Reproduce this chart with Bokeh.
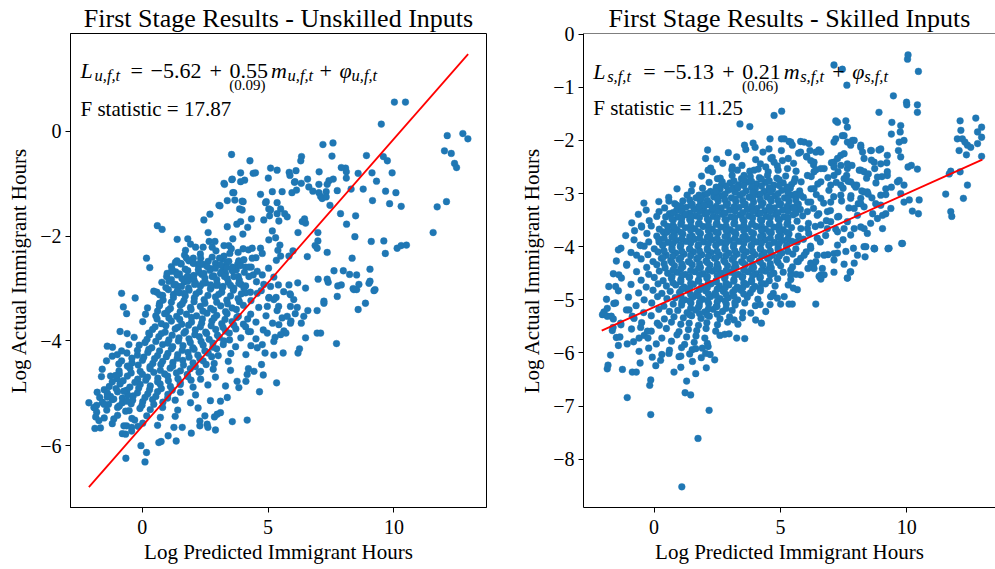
from bokeh.plotting import figure
from bokeh.layouts import row
from bokeh.models import Label, Range1d, FixedTicker, Span
from bokeh.embed import file_html
from bokeh.resources import INLINE

# ---------------- data ----------------
titles = ["First Stage Results - Unskilled Inputs", "First Stage Results - Skilled Inputs"]
x_label = "Log Predicted Immigrant Hours"
y_label = "Log Actual Immigrant Hours"
x_ticks = [0, 5, 10]
unskilled_y_ticks = [-6, -4, -2, 0]
skilled_y_ticks = [-8, -7, -6, -5, -4, -3, -2, -1, 0]

unskilled_fit_x = [-2.12, 12.95]
unskilled_fit_y = [-6.79, 1.475]
skilled_fit_x = [-2.07, 12.99]
skilled_fit_y = [-5.58, -2.36]

unskilled_eq = ["L", "u,f,t", "=", "\u22125.62", "+", "0.55", "m", "u,f,t", "+", "\u03c6", "u,f,t"]
unskilled_se = "(0.09)"
unskilled_f = "F statistic = 17.87"
skilled_eq = ["L", "s,f,t", "=", "\u22125.13", "+", "0.21", "m", "s,f,t", "+", "\u03c6", "s,f,t"]
skilled_se = "(0.06)"
skilled_f = "F statistic = 11.25"

unskilled_upper = [
(10.02,0.56),(10.46,0.56),(9.50,0.14),(12.12,-0.08),(12.74,-0.04),(12.94,-0.14),(12.01,-0.37),(12.28,-0.42),(12.41,-0.61),(12.49,-0.69),(12.09,-1.34),(11.72,-1.44),(11.56,-1.93),
(7.18,-0.25),(7.58,-0.22),(3.55,-0.44),(4.28,-0.56),(6.33,-0.48),(6.30,-0.56),(7.54,-0.47),(8.91,-0.46),(9.58,-0.48),(9.74,-0.56),
(8.08,-0.70),(7.91,-0.69),(8.11,-0.77),(8.58,-0.80),(9.13,-0.79),(9.93,-0.79),(5.10,-0.70),(5.36,-0.74),(3.91,-0.79),(4.07,-0.93),(3.91,-0.96),(4.41,-0.80),(4.50,-0.79),(5.01,-0.89),(5.84,-0.78),(5.87,-0.84),(6.11,-0.75),(6.05,-0.97),(6.57,-0.91),(6.32,-0.99),(7.03,-0.77),(7.42,-0.94),(7.59,-0.91),(7.35,-1.01),(7.02,-1.01),(8.11,-0.89),(9.31,-0.95),
(3.56,-0.92),(3.27,-1.01),(3.64,-1.17),(3.38,-1.32),(3.09,-1.42),(3.68,-1.31),(4.01,-1.34),(3.97,-1.50),(4.70,-1.20),(4.93,-1.34),(5.36,-1.36),(5.17,-1.15),(5.56,-1.15),(5.10,-1.50),(5.06,-1.61),(5.50,-1.48),(5.66,-1.57),(5.76,-1.63),(5.95,-1.17),(6.07,-0.96),(6.13,-1.12),(6.62,-1.06),(6.78,-1.14),(7.02,-1.17),(7.09,-1.24),(7.31,-1.15),(7.15,-1.28),(7.31,-1.25),(7.46,-1.41),(7.75,-1.13),(8.30,-1.10),(8.78,-1.10),(9.15,-1.32),(9.67,-1.14),(10.08,-1.17),(9.83,-1.38),(10.29,-1.43),(7.88,-1.57),(8.48,-1.61),(8.12,-1.77),(6.98,-1.93),(6.19,-1.93),(6.36,-1.72),(6.49,-1.75),(6.45,-1.67),
(8.45,-2.01),(9.10,-2.10),(9.60,-2.09),(9.66,-2.33),(10.13,-2.23),(10.29,-2.18),(10.50,-2.17),(6.98,-2.09),(6.87,-2.18),(6.95,-2.23),(7.35,-2.31),(6.56,-2.39),(5.99,-2.28),(5.83,-2.38),(8.34,-2.42),(9.05,-2.63),(9.05,-2.86),(7.62,-2.66),(7.99,-2.66),(8.24,-2.73),(8.52,-2.74),(6.99,-2.82),(7.39,-2.88),(7.35,-2.82),(7.77,-2.95),(7.91,-2.93),(8.38,-3.00),(8.61,-2.92),(9.21,-3.04),(7.22,-3.24),(5.83,-2.93),(5.87,-3.10),(6.49,-2.99),
]

unskilled_mid = [
(0.60,-1.80),(0.79,-1.87),(1.39,-2.06),(0.17,-2.42),(0.30,-2.60),(0.46,-3.05),(0.69,-3.12),(0.99,-2.71),(1.17,-2.67),(2.45,-1.69),(2.69,-1.58),(3.05,-1.41),(3.25,-0.99),(3.58,-0.91),(3.60,-1.17),(3.87,-1.48),(3.97,-1.33),(4.34,-1.67),(4.19,-1.83),(3.76,-1.77),(3.91,-1.72),(4.00,-1.96),(3.60,-2.05),(3.38,-1.82),(4.90,-1.36),(5.03,-1.48),(4.83,-1.69),(5.36,-1.57),(5.43,-1.71),(5.17,-1.90),(5.30,-2.03),(5.03,-2.07),(5.47,-2.17),(5.39,-2.27),(5.50,-2.38),(4.70,-2.23),(4.77,-2.33),(4.37,-2.23),(2.62,-1.93),(2.66,-2.10),(2.89,-2.10),(1.81,-2.05),(1.92,-2.15),(2.12,-2.21),(2.42,-2.21),(2.78,-2.21),(3.25,-2.18),(3.44,-2.18),(3.54,-2.24),(3.81,-2.31),(4.01,-2.24),(4.37,-2.42),(3.84,-2.48),(4.04,-2.45),(3.44,-2.48),(3.25,-2.38),(3.35,-2.60),(3.07,-2.42),(3.11,-2.55),(2.32,-2.42),(2.78,-2.40),(1.68,-2.36),(1.76,-2.42),(1.85,-2.47),(2.05,-2.52),(2.29,-2.52),(2.58,-2.58),(2.91,-2.61),(3.58,-2.59),(3.91,-2.56),(4.11,-2.59),(4.24,-2.59),(1.32,-2.50),(1.52,-2.52),(1.19,-2.64),(1.39,-2.74),(1.79,-2.77),(2.05,-2.75),(2.23,-2.64),(2.45,-2.71),(2.78,-2.77),(3.11,-2.71),(3.27,-2.77),(3.64,-2.77),(4.24,-2.77),(4.57,-2.67),(4.77,-2.74),(1.06,-2.86),(1.32,-2.92),(1.56,-2.96),(1.81,-2.86),(2.12,-2.90),(2.41,-2.90),(2.72,-2.93),(2.98,-2.91),(3.18,-2.99),(3.51,-2.94),(3.84,-2.90),(4.04,-2.99),(4.30,-3.07),(4.57,-3.09),(4.83,-2.92),(5.10,-2.96),(5.03,-3.18),(5.32,-3.17),(1.39,-3.05),(1.66,-3.09),
]

unskilled_lower = [
(-2.12,-5.18),(-1.92,-5.27),(-1.81,-5.36),(-1.85,-5.45),(-1.72,-5.52),(-1.88,-5.67),(-1.66,-5.66),(-1.52,-5.21),(-1.39,-4.10),(-1.59,-4.54),(-1.39,-4.99),(-1.39,-5.07),(-1.13,-5.11),(-1.13,-5.49),(-0.82,-3.09),(-0.75,-3.35),(-0.60,-3.86),(-0.53,-4.07),(-0.82,-4.19),(-0.82,-4.38),(-1.19,-4.29),(-0.99,-4.26),(-1.26,-4.67),(-1.06,-4.66),(-0.93,-4.44),(-0.73,-4.96),(-0.66,-5.34),(-0.60,-5.15),(-0.73,-5.62),(-0.79,-5.77),(-0.66,-5.78),(-0.42,-5.65),(-0.42,-5.72),(-0.30,-5.51),(-0.17,-5.63),(-0.05,-6.00),(0.17,-6.13),(0.11,-6.31),(-0.65,-6.24),(0.13,-3.49),(0.26,-3.85),(0.68,-3.32),(0.89,-3.48),(0.66,-5.94),(0.75,-5.92),(1.03,-5.81),(1.35,-5.91),(1.26,-5.65),(1.59,-5.65),(1.95,-5.76),(2.29,-5.62),(2.58,-5.59),(2.61,-5.65),(2.91,-5.70),(2.29,-5.53),(2.49,-5.43),(2.98,-5.40),(2.87,-5.45),(3.11,-5.37),(3.58,-5.54),(4.17,-5.51),(3.11,-5.15),(3.38,-5.08),(4.66,-4.97),(5.34,-4.80),(4.81,-4.65),(4.74,-4.45),(4.44,-4.58),(4.17,-4.64),(3.84,-4.89),(3.77,-4.77),(4.12,-4.77),(5.23,-4.27),(5.60,-4.23),(6.19,-4.23),(6.25,-4.15),(6.49,-3.94),(6.95,-3.85),(7.09,-3.85),(7.72,-4.05),(6.32,-3.66),(6.42,-3.53),(6.58,-3.42),(6.95,-3.42),(7.22,-3.28),(7.75,-3.15),(8.58,-3.40),(8.87,-3.28),(8.41,-3.02),(8.52,-3.02),(9.25,-3.02),(9.01,-2.90),(5.89,-3.12),(5.89,-3.34),(6.16,-3.36),(5.36,-3.42),(5.56,-3.56),(5.76,-3.53),(4.97,-3.34),(5.23,-3.21),(5.89,-3.66),(5.71,-3.85),(5.43,-3.69),(5.50,-3.88),(4.97,-3.85),(5.23,-4.01),(4.77,-4.07),(4.57,-4.13),(4.30,-3.82),
]

unskilled_core = [
(1.72,-2.27),(2.31,-2.34),(2.93,-2.28),(3.48,-2.33),(4.22,-2.26),
(1.38,-2.47),(2.03,-2.42),(2.62,-2.48),(3.18,-2.43),(3.84,-2.47),(4.52,-2.41),(5.33,-2.46),
(1.16,-2.58),(1.71,-2.63),(2.24,-2.57),(2.73,-2.62),(3.21,-2.58),(3.74,-2.64),(4.33,-2.59),(5.02,-2.61),
(0.97,-2.77),(1.48,-2.72),(1.93,-2.78),(2.37,-2.73),(2.84,-2.76),(3.31,-2.71),(3.82,-2.77),(4.41,-2.74),(5.23,-2.78),
(0.78,-2.88),(1.26,-2.93),(1.67,-2.87),(2.08,-2.92),(2.52,-2.89),(2.96,-2.94),(3.42,-2.88),(3.93,-2.92),(4.54,-2.87),(5.41,-2.93),(6.18,-2.89),
(0.58,-3.07),(1.04,-3.02),(1.47,-3.08),(1.86,-3.03),(2.27,-3.06),(2.71,-3.01),(3.16,-3.07),(3.62,-3.03),(4.11,-3.08),(4.73,-3.04),(5.62,-3.06),
(-0.28,-3.18),(0.83,-3.22),(1.24,-3.17),(1.66,-3.23),(2.07,-3.18),(2.46,-3.21),(2.91,-3.16),(3.36,-3.22),(3.81,-3.19),(4.32,-3.23),(5.04,-3.17),(6.02,-3.21),
(0.21,-3.37),(0.68,-3.33),(1.12,-3.38),(1.51,-3.32),(1.92,-3.36),(2.31,-3.34),(2.72,-3.38),(3.12,-3.33),(3.57,-3.37),(4.02,-3.32),(4.63,-3.36),(5.42,-3.34),
(-0.62,-3.48),(0.54,-3.52),(0.96,-3.47),(1.37,-3.53),(1.76,-3.49),(2.16,-3.52),(2.57,-3.47),(2.96,-3.51),(3.37,-3.48),(3.82,-3.53),(4.31,-3.49),(4.92,-3.52),(6.08,-3.48),
(0.02,-3.63),(0.76,-3.67),(1.16,-3.62),(1.57,-3.68),(1.96,-3.64),(2.36,-3.66),(2.77,-3.62),(3.16,-3.67),(3.57,-3.63),(4.02,-3.68),(4.52,-3.64),(5.18,-3.66),(5.91,-3.62),
(-0.88,-3.82),(0.41,-3.78),(0.91,-3.83),(1.31,-3.77),(1.72,-3.82),(2.11,-3.79),(2.52,-3.83),(2.92,-3.78),(3.31,-3.81),(3.72,-3.77),(4.22,-3.82),(4.81,-3.79),(5.63,-3.81),
(-0.32,-3.93),(0.19,-3.97),(0.66,-3.92),(1.06,-3.98),(1.46,-3.94),(1.86,-3.96),(2.27,-3.92),(2.66,-3.97),(3.06,-3.93),(3.47,-3.98),(3.92,-3.94),(4.52,-3.96),(5.28,-3.93),
(-1.18,-4.12),(-0.12,-4.08),(0.38,-4.13),(0.81,-4.07),(1.21,-4.11),(1.62,-4.09),(2.01,-4.13),(2.42,-4.08),(2.81,-4.12),(3.22,-4.07),(3.71,-4.11),(4.32,-4.09),
(-0.61,-4.23),(-0.19,-4.27),(0.22,-4.22),(0.61,-4.28),(1.02,-4.24),(1.41,-4.26),(1.82,-4.22),(2.21,-4.27),(2.62,-4.23),(3.02,-4.28),(3.52,-4.24),(4.12,-4.26),(4.88,-4.23),
(-1.42,-4.38),(-0.41,-4.42),(0.01,-4.37),(0.42,-4.43),(0.81,-4.39),(1.22,-4.41),(1.61,-4.37),(2.02,-4.42),(2.42,-4.38),(2.86,-4.43),(3.42,-4.39),
(-0.92,-4.57),(-0.49,-4.52),(-0.08,-4.58),(0.31,-4.53),(0.72,-4.56),(1.11,-4.52),(1.52,-4.57),(1.91,-4.53),(2.32,-4.58),(2.82,-4.54),(3.51,-4.56),(4.22,-4.53),
(-1.62,-4.68),(-1.01,-4.72),(-0.59,-4.67),(-0.18,-4.73),(0.21,-4.69),(0.62,-4.71),(1.01,-4.67),(1.42,-4.72),(1.81,-4.68),(2.32,-4.73),(2.91,-4.69),
(-1.31,-4.87),(-0.88,-4.82),(-0.49,-4.88),(-0.08,-4.83),(0.32,-4.86),(0.71,-4.82),(1.12,-4.87),(1.51,-4.83),(2.02,-4.88),(2.61,-4.84),(3.31,-4.86),
(-1.79,-4.98),(-1.38,-5.02),(-0.98,-4.97),(-0.58,-5.03),(-0.19,-4.99),(0.22,-5.01),(0.61,-4.97),(1.02,-5.02),(1.52,-4.98),(2.12,-5.03),
(-1.58,-5.17),(-1.19,-5.12),(-0.79,-5.18),(-0.38,-5.13),(0.02,-5.16),(0.41,-5.12),(0.82,-5.17),(1.31,-5.13),(1.92,-5.18),(2.71,-5.14),
(-1.88,-5.28),(-1.41,-5.32),(-0.98,-5.27),(-0.52,-5.33),(-0.09,-5.29),(0.32,-5.31),(0.81,-5.27),(1.41,-5.32),(2.22,-5.28),
(-1.51,-5.47),(-0.98,-5.42),(-0.41,-5.48),(0.18,-5.43),(0.72,-5.46),(1.31,-5.44),
(-1.19,-5.58),(-0.62,-5.62),(0.02,-5.57),(0.61,-5.61),
]

unskilled_dense = [
(1.55,-2.53),(2.02,-2.51),(2.44,-2.54),(2.91,-2.52),(3.36,-2.50),(3.79,-2.54),
(1.33,-2.68),(1.81,-2.66),(2.26,-2.69),(2.69,-2.65),(3.16,-2.68),(3.58,-2.66),(4.06,-2.69),
(1.16,-2.83),(1.58,-2.81),(2.06,-2.84),(2.49,-2.80),(2.96,-2.83),(3.38,-2.81),(3.86,-2.84),
(0.94,-2.98),(1.41,-2.96),(1.84,-2.99),(2.31,-2.95),(2.74,-2.98),(3.21,-2.96),(3.64,-2.99),(4.11,-2.95),
(0.81,-3.13),(1.24,-3.11),(1.71,-3.14),(2.14,-3.10),(2.61,-3.13),(3.04,-3.11),(3.51,-3.14),(3.94,-3.10),
(0.69,-3.28),(1.16,-3.26),(1.59,-3.29),(2.06,-3.25),(2.49,-3.28),(2.96,-3.26),(3.39,-3.29),(3.86,-3.25),
(0.61,-3.43),(1.04,-3.41),(1.51,-3.44),(1.94,-3.40),(2.41,-3.43),(2.84,-3.41),(3.31,-3.44),(3.74,-3.40),
(0.59,-3.58),(1.06,-3.56),(1.49,-3.59),(1.96,-3.55),(2.39,-3.58),(2.86,-3.56),(3.29,-3.59),(3.76,-3.55),(4.19,-3.58),
(0.51,-3.73),(0.94,-3.71),(1.41,-3.74),(1.84,-3.70),(2.31,-3.73),(2.74,-3.71),(3.21,-3.74),(3.64,-3.70),(4.11,-3.73),
(0.29,-3.88),(0.76,-3.86),(1.19,-3.89),(1.66,-3.85),(2.09,-3.88),(2.56,-3.86),(2.99,-3.89),(3.46,-3.85),
(0.11,-4.03),(0.54,-4.01),(1.01,-4.04),(1.44,-4.00),(1.91,-4.03),(2.34,-4.01),(2.81,-4.04),(3.24,-4.00),
(-0.19,-4.18),(0.26,-4.16),(0.69,-4.19),(1.16,-4.15),(1.59,-4.18),(2.06,-4.16),(2.49,-4.19),(2.96,-4.15),
(-0.41,-4.33),(0.06,-4.31),(0.49,-4.34),(0.96,-4.30),(1.39,-4.33),(1.86,-4.31),(2.29,-4.34),(2.76,-4.30),
(-0.59,-4.48),(-0.16,-4.46),(0.31,-4.49),(0.74,-4.45),(1.21,-4.48),(1.64,-4.46),(2.11,-4.49),(2.54,-4.45),
(-0.91,-4.63),(-0.44,-4.61),(0.01,-4.64),(0.46,-4.60),(0.89,-4.63),(1.36,-4.61),(1.79,-4.64),(2.26,-4.60),
(-1.19,-4.78),(-0.76,-4.76),(-0.29,-4.79),(0.14,-4.75),(0.61,-4.78),(1.04,-4.76),(1.51,-4.79),(1.94,-4.75),
(-1.51,-4.93),(-1.04,-4.91),(-0.61,-4.94),(-0.14,-4.90),(0.29,-4.93),(0.76,-4.91),(1.19,-4.94),
(-1.69,-5.08),(-1.26,-5.06),(-0.79,-5.09),(-0.36,-5.05),(0.11,-5.08),(0.54,-5.06),(1.01,-5.09),
(-1.81,-5.23),(-1.34,-5.21),(-0.91,-5.24),(-0.44,-5.20),(-0.01,-5.23),(0.46,-5.21),
]

skilled_upper = [
(10.03,-0.47),(10.05,-0.39),(10.46,-0.70),(7.12,-0.58),(7.45,-0.66),(7.63,-0.96),(9.47,-1.16),(9.99,-1.28),(10.00,-1.33),(10.42,-1.33),(10.42,-1.47),(8.90,-1.47),(5.05,-1.45),(4.75,-1.53),(3.40,-1.69),(3.79,-1.74),(7.19,-1.63),(7.26,-1.66),(7.59,-1.63),(7.65,-1.75),(9.41,-1.66),(9.39,-1.88),(12.11,-1.63),(12.14,-1.81),(12.73,-1.58),(12.00,-1.97),(12.20,-1.97),(12.40,-2.09),(12.30,-2.03),(12.96,-1.75),(12.80,-1.84),(12.96,-1.94),(12.07,-2.19),(12.36,-2.27),(12.53,-2.13),(12.80,-2.06),(12.96,-2.30),(11.68,-2.63),(11.74,-2.58),(12.11,-2.59),(12.40,-2.84),(12.24,-3.09),(11.54,-3.01),(11.74,-3.34),(11.78,-3.43),(9.76,-1.72),(9.74,-1.84),(9.89,-2.00),(9.70,-2.03),(9.67,-2.19),(9.76,-2.31),(10.18,-2.47),(10.42,-2.54),(10.05,-2.50),(9.70,-2.75),(9.89,-2.84),(9.76,-3.00),(10.10,-3.12),(10.49,-3.12),(10.22,-3.33),(10.46,-3.38),(9.83,-3.94),(9.27,-4.03),(8.73,-4.04),(8.25,-2.22),(8.60,-2.19),(8.90,-2.18),(7.92,-2.00),(8.18,-2.13),(8.60,-2.37),(8.97,-2.44),(9.21,-2.42),(8.73,-2.53),(9.23,-2.59),(8.31,-2.59),(8.48,-2.63),(9.17,-2.91),(9.17,-3.02),(9.39,-2.88),(8.77,-3.19),(8.97,-3.22),(8.65,-3.38),(9.04,-3.41),(9.17,-3.38),(8.31,-2.97),(8.47,-3.01),(7.68,-2.77),(7.78,-2.78),(7.98,-2.88),(8.18,-3.19),(8.31,-3.25),(7.92,-3.66),(8.18,-3.63),(7.19,-1.97),(7.52,-1.91),(7.78,-2.09),(7.26,-2.34),(7.52,-2.25),(7.65,-2.44),(7.12,-2.50),(7.39,-2.47),(6.17,-2.19),(6.40,-2.22),(6.04,-2.31),(5.80,-2.02),(6.13,-2.06),(5.34,-2.02),(5.47,-2.09),(5.04,-1.97),(4.59,-1.97),(4.55,-2.16),(4.62,-2.34),(3.92,-2.05),(4.00,-2.13),(3.58,-2.09),(2.04,-2.34),(2.24,-2.52),(2.14,-2.56),(4.42,-2.50),(4.75,-2.41),(5.08,-2.38),(6.20,-2.38),(6.60,-2.53),(3.10,-2.50),(3.30,-2.56),(3.96,-2.56),(3.56,-2.66),(2.51,-2.72),(2.70,-2.78),(3.10,-2.91),(3.30,-2.88),(1.78,-3.03),(1.87,-3.09),(2.44,-2.96),(-0.40,-3.18),(0.59,-3.14),(0.90,-3.22),(0.20,-3.34),(0.46,-3.44),(-0.77,-3.70),(-0.50,-3.61),(-0.11,-3.61),(-1.41,-4.06),(-0.55,-3.97),(-0.69,-4.16),(0.20,-3.91),(0.53,-3.72),(0.79,-3.63),(1.25,-3.39),(1.45,-3.44),(1.78,-3.25),(1.98,-3.22),(2.31,-3.28),
]

skilled_mid = [
(7.12,-2.03),(7.45,-1.91),(7.65,-2.03),(7.85,-2.00),(8.18,-2.09),(8.57,-2.19),(8.97,-2.16),(9.23,-2.28),(8.31,-2.34),(8.71,-2.41),(8.18,-2.56),(7.39,-2.28),(7.12,-2.41),(6.73,-2.53),(6.33,-2.41),(6.07,-2.66),(6.60,-2.78),(6.99,-2.84),(7.52,-2.72),(7.92,-2.84),(8.44,-2.97),(7.78,-3.09),(7.39,-3.03),(6.99,-3.16),(6.60,-3.09),(6.20,-3.16),(5.80,-3.03),(5.54,-3.28),(6.07,-3.34),(6.46,-3.41),(6.86,-3.34),(7.26,-3.44),(7.65,-3.53),(8.05,-3.41),(8.31,-3.66),(8.57,-3.56),(8.84,-3.47),(7.78,-3.78),(7.26,-3.72),(6.86,-3.66),(6.46,-3.84),(6.07,-3.66),(5.67,-3.91),(6.20,-4.03),(6.73,-4.16),(7.26,-3.97),(6.33,-4.41),(5.80,-4.22),(5.41,-4.53),(6.60,-4.53),(7.65,-4.59),(7.78,-4.47),(7.12,-4.25),(9.30,-4.03),(8.71,-4.03),(8.31,-4.00),(8.05,-4.16),(8.44,-3.75),(9.04,-3.66),(9.37,-3.28),(9.89,-3.16),(9.63,-2.78),(9.23,-2.66),(8.84,-2.69),(8.97,-3.03),(6.33,-2.91),(5.54,-2.78),(5.28,-2.53),(5.80,-2.22),(5.41,-2.03),(5.15,-1.97),(5.94,-2.03),(6.60,-2.22),(6.33,-2.59),(7.12,-2.66),(7.65,-2.53),(7.39,-2.84),(7.92,-3.28),(8.18,-3.09),(6.99,-3.53),(6.60,-3.59),(7.52,-3.66),
]

skilled_lower = [
(1.10,-8.52),(1.74,-7.61),(2.18,-7.08),(-0.13,-7.16),(-1.06,-6.84),(1.23,-6.75),(1.45,-6.79),(-0.17,-6.61),(-0.13,-6.51),(1.29,-6.53),(1.65,-6.39),(0.79,-6.36),(1.06,-6.27),(2.07,-6.28),(-1.85,-6.30),(-1.82,-6.23),(-1.25,-6.31),(-0.86,-6.36),(-0.70,-6.36),(-0.55,-6.19),(-1.72,-6.04),(-1.41,-5.86),(-1.06,-5.83),(-0.59,-5.97),(-0.07,-6.08),(0.07,-6.24),(0.26,-6.14),(0.59,-6.01),(1.06,-6.06),(1.52,-6.16),(1.87,-6.09),(2.04,-6.01),(2.22,-6.03),(2.40,-6.13),(1.91,-5.91),(2.14,-5.88),(1.65,-5.92),(-1.35,-5.70),(-2.04,-5.28),(-1.85,-5.31),(-1.61,-5.36),(-1.65,-5.58),(-1.62,-5.52),(-1.32,-5.44),(-1.85,-5.16),(-1.52,-5.06),(-1.52,-4.75),(-1.39,-4.53),(-1.08,-4.33),(-0.53,-3.98),(-0.99,-5.19),(-0.86,-5.31),(-0.59,-5.72),(-0.24,-5.72),(-0.53,-5.52),(-0.26,-5.59),(0.13,-5.44),(3.27,-5.72),(3.59,-5.73),(2.80,-5.65),(2.97,-5.64),(3.32,-5.46),(3.17,-5.38),(4.02,-5.38),(4.25,-5.44),(3.83,-5.25),(3.50,-5.34),(4.20,-5.09),(4.42,-5.22),(4.59,-5.09),(5.01,-5.08),(5.34,-5.08),(5.47,-5.08),(6.40,-5.08),(4.62,-4.94),(4.88,-4.97),(5.15,-4.94),(5.51,-4.78),(5.67,-4.81),(6.53,-4.56),(6.73,-4.53),(6.60,-4.61),(7.12,-4.48),(7.65,-4.59),(7.76,-4.48),(7.52,-4.33),(7.92,-4.31),(8.35,-4.19),(8.71,-4.04),(9.26,-4.04),(9.80,-3.94),(8.38,-4.00),(7.12,-4.13),(7.26,-4.12),(7.59,-4.09),(7.89,-4.03),(6.20,-4.31),(6.09,-4.41),(6.40,-4.28),(6.66,-4.41),(5.65,-4.28),(5.41,-4.44),(5.80,-4.53),(5.94,-4.16),(6.46,-4.16),
]

skilled_core = [
(2.12,-2.18),(2.94,-2.23),(3.63,-2.17),(4.31,-2.22),(5.04,-2.19),(5.72,-2.24),(6.52,-2.18),
(2.48,-2.35),(3.27,-2.31),(4.02,-2.36),(4.68,-2.32),(5.31,-2.34),(6.04,-2.30),
(2.72,-2.43),(3.48,-2.47),(4.21,-2.44),(4.88,-2.48),(5.52,-2.43),(6.31,-2.46),(7.02,-2.42),(7.83,-2.47),
(2.31,-2.59),(3.08,-2.55),(3.79,-2.58),(4.12,-2.54),(4.52,-2.59),(4.91,-2.56),(5.62,-2.58),(6.41,-2.55),(7.28,-2.59),(8.12,-2.56),
(1.88,-2.67),(2.62,-2.71),(3.09,-2.66),(3.46,-2.72),(3.81,-2.68),(4.17,-2.70),(4.49,-2.66),(4.86,-2.71),(5.21,-2.67),(5.58,-2.72),(6.22,-2.68),(6.88,-2.70),(7.62,-2.66),(8.41,-2.71),(9.02,-2.68),
(1.52,-2.83),(2.18,-2.79),(2.66,-2.84),(3.01,-2.80),(3.36,-2.83),(3.69,-2.78),(4.06,-2.82),(4.41,-2.79),(4.74,-2.84),(5.11,-2.80),(5.44,-2.83),(5.82,-2.78),(6.48,-2.82),(7.21,-2.79),(8.02,-2.84),(8.78,-2.80),
(0.91,-2.91),(1.48,-2.95),(1.92,-2.90),(2.24,-2.96),(2.61,-2.92),(2.94,-2.94),(3.31,-2.90),(3.64,-2.95),(4.01,-2.91),(4.36,-2.96),(4.69,-2.92),(5.06,-2.94),(5.39,-2.90),(5.76,-2.95),(6.21,-2.91),(6.92,-2.94),(7.48,-2.90),(8.22,-2.95),
(0.58,-3.07),(1.31,-3.03),(1.66,-3.08),(1.99,-3.02),(2.36,-3.06),(2.69,-3.04),(3.06,-3.08),(3.39,-3.03),(3.76,-3.07),(4.09,-3.02),(4.46,-3.06),(4.79,-3.04),(5.16,-3.08),(5.49,-3.03),(5.91,-3.07),(6.42,-3.02),(7.11,-3.06),(7.79,-3.04),(8.62,-3.08),
(0.19,-3.15),(0.82,-3.19),(1.14,-3.14),(1.51,-3.20),(1.84,-3.16),(2.21,-3.18),(2.54,-3.14),(2.91,-3.19),(3.24,-3.15),(3.61,-3.20),(3.94,-3.16),(4.31,-3.18),(4.64,-3.14),(5.01,-3.19),(5.34,-3.15),(5.71,-3.20),(6.09,-3.16),(6.71,-3.18),(7.42,-3.14),(8.08,-3.19),
(-0.31,-3.31),(0.42,-3.27),(0.89,-3.32),(1.26,-3.26),(1.59,-3.30),(1.96,-3.28),(2.29,-3.32),(2.66,-3.27),(2.99,-3.31),(3.36,-3.26),(3.69,-3.30),(4.06,-3.28),(4.39,-3.32),(4.76,-3.27),(5.09,-3.31),(5.46,-3.26),(5.79,-3.30),(6.31,-3.28),(6.98,-3.32),(7.71,-3.27),
(-0.62,-3.39),(0.11,-3.43),(0.61,-3.38),(0.94,-3.44),(1.31,-3.40),(1.64,-3.42),(2.01,-3.38),(2.34,-3.43),(2.71,-3.39),(3.04,-3.44),(3.41,-3.40),(3.74,-3.42),(4.11,-3.38),(4.44,-3.43),(4.81,-3.39),(5.14,-3.44),(5.51,-3.40),(5.88,-3.42),(6.52,-3.38),(7.31,-3.43),
(-0.88,-3.55),(-0.19,-3.51),(0.39,-3.56),(0.76,-3.50),(1.09,-3.54),(1.46,-3.52),(1.79,-3.56),(2.16,-3.51),(2.49,-3.55),(2.86,-3.50),(3.19,-3.54),(3.56,-3.52),(3.89,-3.56),(4.26,-3.51),(4.59,-3.55),(4.96,-3.50),(5.29,-3.54),(5.66,-3.52),(6.11,-3.56),(6.82,-3.51),
(-0.49,-3.63),(0.21,-3.67),(0.54,-3.62),(0.91,-3.68),(1.24,-3.64),(1.61,-3.66),(1.94,-3.62),(2.31,-3.67),(2.64,-3.63),(3.01,-3.68),(3.34,-3.64),(3.71,-3.66),(4.04,-3.62),(4.41,-3.67),(4.74,-3.63),(5.11,-3.68),(5.44,-3.64),(5.81,-3.66),(6.38,-3.62),(7.19,-3.67),
(-1.12,-3.79),(-0.28,-3.75),(0.11,-3.80),(0.44,-3.74),(0.81,-3.78),(1.14,-3.76),(1.51,-3.80),(1.84,-3.75),(2.21,-3.79),(2.54,-3.74),(2.91,-3.78),(3.24,-3.76),(3.61,-3.80),(3.94,-3.75),(4.31,-3.79),(4.64,-3.74),(5.01,-3.78),(5.34,-3.76),(5.71,-3.80),(6.12,-3.75),(6.79,-3.79),
(-0.79,-3.87),(-0.21,-3.91),(0.19,-3.86),(0.56,-3.92),(0.89,-3.88),(1.26,-3.90),(1.59,-3.86),(1.96,-3.91),(2.29,-3.87),(2.66,-3.92),(2.99,-3.88),(3.36,-3.90),(3.69,-3.86),(4.06,-3.91),(4.39,-3.87),(4.76,-3.92),(5.09,-3.88),(5.46,-3.90),(5.91,-3.86),(6.58,-3.91),(7.48,-3.87),
(-1.31,-4.03),(-0.39,-3.99),(0.01,-4.04),(0.34,-3.98),(0.71,-4.02),(1.04,-4.00),(1.41,-4.04),(1.74,-3.99),(2.11,-4.03),(2.44,-3.98),(2.81,-4.02),(3.14,-4.00),(3.51,-4.04),(3.84,-3.99),(4.21,-4.03),(4.54,-3.98),(4.91,-4.02),(5.24,-4.00),(5.61,-4.04),(6.19,-3.99),
(-0.91,-4.11),(-0.24,-4.15),(0.16,-4.10),(0.49,-4.16),(0.86,-4.12),(1.19,-4.14),(1.56,-4.10),(1.89,-4.15),(2.26,-4.11),(2.59,-4.16),(2.96,-4.12),(3.29,-4.14),(3.66,-4.10),(3.99,-4.15),(4.36,-4.11),(4.69,-4.16),(5.06,-4.12),(5.49,-4.14),(6.02,-4.10),(6.88,-4.15),
(-1.49,-4.27),(-0.51,-4.23),(-0.04,-4.28),(0.29,-4.22),(0.66,-4.26),(0.99,-4.24),(1.36,-4.28),(1.69,-4.23),(2.06,-4.27),(2.39,-4.22),(2.76,-4.26),(3.09,-4.24),(3.46,-4.28),(3.79,-4.23),(4.16,-4.27),(4.49,-4.22),(4.86,-4.26),(5.24,-4.24),(5.71,-4.28),
(-1.08,-4.35),(-0.29,-4.39),(0.11,-4.34),(0.44,-4.40),(0.81,-4.36),(1.14,-4.38),(1.51,-4.34),(1.84,-4.39),(2.21,-4.35),(2.54,-4.40),(2.91,-4.36),(3.24,-4.38),(3.61,-4.34),(3.94,-4.39),(4.31,-4.35),(4.64,-4.40),(5.01,-4.36),(5.48,-4.38),(6.31,-4.34),
(-1.61,-4.51),(-0.69,-4.47),(-0.21,-4.52),(0.21,-4.46),(0.54,-4.50),(0.91,-4.48),(1.24,-4.52),(1.61,-4.47),(1.94,-4.51),(2.31,-4.46),(2.64,-4.50),(3.01,-4.48),(3.34,-4.52),(3.71,-4.47),(4.04,-4.51),(4.41,-4.46),(4.74,-4.50),(5.11,-4.48),(5.62,-4.52),
(-1.29,-4.59),(-0.51,-4.63),(0.01,-4.58),(0.36,-4.64),(0.69,-4.60),(1.06,-4.62),(1.39,-4.58),(1.76,-4.63),(2.09,-4.59),(2.46,-4.64),(2.79,-4.60),(3.16,-4.62),(3.49,-4.58),(3.86,-4.63),(4.19,-4.59),(4.56,-4.64),(4.89,-4.60),(5.41,-4.62),
(-1.79,-4.75),(-0.91,-4.71),(-0.31,-4.76),(0.16,-4.70),(0.49,-4.74),(0.86,-4.72),(1.19,-4.76),(1.56,-4.71),(1.89,-4.75),(2.26,-4.70),(2.59,-4.74),(2.96,-4.72),(3.29,-4.76),(3.66,-4.71),(3.99,-4.75),(4.41,-4.70),(4.79,-4.74),(5.31,-4.72),
(-1.41,-4.83),(-0.61,-4.87),(-0.04,-4.82),(0.31,-4.88),(0.64,-4.84),(1.01,-4.86),(1.34,-4.82),(1.71,-4.87),(2.04,-4.83),(2.41,-4.88),(2.74,-4.84),(3.11,-4.86),(3.44,-4.82),(3.81,-4.87),(4.21,-4.83),(4.72,-4.88),
(-1.88,-4.99),(-1.01,-4.95),(-0.39,-5.00),(0.14,-4.94),(0.51,-4.98),(0.84,-4.96),(1.21,-5.00),(1.54,-4.95),(1.91,-4.99),(2.24,-4.94),(2.61,-4.98),(2.94,-4.96),(3.31,-5.00),(3.69,-4.95),(4.11,-4.99),(4.62,-4.94),
(-1.59,-5.07),(-0.71,-5.11),(-0.09,-5.06),(0.39,-5.12),(0.76,-5.08),(1.09,-5.10),(1.46,-5.06),(1.79,-5.11),(2.16,-5.07),(2.49,-5.12),(2.86,-5.08),(3.21,-5.10),(3.59,-5.06),(4.01,-5.11),
(-1.98,-5.23),(-1.09,-5.19),(-0.41,-5.24),(0.19,-5.18),(0.61,-5.22),(0.94,-5.20),(1.31,-5.24),(1.64,-5.19),(2.01,-5.23),(2.34,-5.18),(2.71,-5.22),(3.09,-5.20),(3.51,-5.24),
(-1.69,-5.31),(-0.79,-5.35),(-0.11,-5.30),(0.41,-5.36),(0.79,-5.32),(1.16,-5.34),(1.49,-5.30),(1.86,-5.35),(2.19,-5.31),(2.61,-5.36),(2.99,-5.32),
(-1.31,-5.47),(-0.49,-5.43),(0.21,-5.48),(0.69,-5.42),(1.06,-5.46),(1.39,-5.44),(1.76,-5.48),(2.09,-5.43),(2.51,-5.47),(2.91,-5.42),
(-0.89,-5.55),(-0.11,-5.59),(0.49,-5.54),(0.99,-5.60),(1.36,-5.56),(1.69,-5.58),(2.06,-5.54),(2.44,-5.59),
(-1.49,-5.71),(-0.39,-5.67),(0.31,-5.72),(0.91,-5.66),(1.29,-5.70),(1.66,-5.68),(2.01,-5.72),(2.61,-5.67),
(-0.81,-5.79),(0.09,-5.83),(0.69,-5.78),(1.21,-5.84),(1.59,-5.80),(2.11,-5.82),
(-0.21,-5.91),(0.61,-5.95),(1.09,-5.90),(1.51,-5.94),
(0.31,-6.03),(0.99,-6.07),(1.41,-6.02),
]

skilled_dense = [
(3.16,-2.76),(3.55,-2.74),(3.86,-2.77),(4.25,-2.73),(4.56,-2.76),(4.95,-2.74),
(2.46,-2.88),(2.85,-2.86),(3.16,-2.89),(3.55,-2.85),(3.86,-2.88),(4.25,-2.86),(4.56,-2.89),(4.95,-2.85),(5.26,-2.88),
(2.11,-3.00),(2.50,-2.98),(2.81,-3.01),(3.20,-2.97),(3.51,-3.00),(3.90,-2.98),(4.21,-3.01),(4.60,-2.97),(4.91,-3.00),(5.30,-2.98),(5.61,-3.01),
(1.41,-3.12),(1.80,-3.10),(2.11,-3.13),(2.50,-3.09),(2.81,-3.12),(3.20,-3.10),(3.51,-3.13),(3.90,-3.09),(4.21,-3.12),(4.60,-3.10),(4.91,-3.13),(5.30,-3.09),(5.61,-3.12),
(1.06,-3.24),(1.45,-3.22),(1.76,-3.25),(2.15,-3.21),(2.46,-3.24),(2.85,-3.22),(3.16,-3.25),(3.55,-3.21),(3.86,-3.24),(4.25,-3.22),(4.56,-3.25),(4.95,-3.21),(5.26,-3.24),(5.65,-3.22),
(0.75,-3.36),(1.10,-3.34),(1.41,-3.37),(1.80,-3.33),(2.11,-3.36),(2.50,-3.34),(2.81,-3.37),(3.20,-3.33),(3.51,-3.36),(3.90,-3.34),(4.21,-3.37),(4.60,-3.33),(4.91,-3.36),(5.30,-3.34),(5.61,-3.37),
(0.71,-3.48),(1.10,-3.46),(1.41,-3.49),(1.80,-3.45),(2.11,-3.48),(2.50,-3.46),(2.81,-3.49),(3.20,-3.45),(3.51,-3.48),(3.90,-3.46),(4.21,-3.49),(4.60,-3.45),(4.91,-3.48),(5.30,-3.46),
(0.75,-3.60),(1.06,-3.58),(1.45,-3.61),(1.76,-3.57),(2.15,-3.60),(2.46,-3.58),(2.85,-3.61),(3.16,-3.57),(3.55,-3.60),(3.86,-3.58),(4.25,-3.61),(4.56,-3.57),(4.95,-3.60),(5.26,-3.58),
(0.36,-3.72),(0.75,-3.70),(1.06,-3.73),(1.45,-3.69),(1.76,-3.72),(2.15,-3.70),(2.46,-3.73),(2.85,-3.69),(3.16,-3.72),(3.55,-3.70),(3.86,-3.73),(4.25,-3.69),(4.56,-3.72),(4.95,-3.70),(5.26,-3.73),
(0.40,-3.84),(0.71,-3.82),(1.10,-3.85),(1.41,-3.81),(1.80,-3.84),(2.11,-3.82),(2.50,-3.85),(2.81,-3.81),(3.20,-3.84),(3.51,-3.82),(3.90,-3.85),(4.21,-3.81),(4.60,-3.84),(4.91,-3.82),(5.30,-3.85),
(0.36,-3.96),(0.75,-3.94),(1.06,-3.97),(1.45,-3.93),(1.76,-3.96),(2.15,-3.94),(2.46,-3.97),(2.85,-3.93),(3.16,-3.96),(3.55,-3.94),(3.86,-3.97),(4.25,-3.93),(4.56,-3.96),(4.95,-3.94),(5.26,-3.97),
(0.40,-4.08),(0.71,-4.06),(1.10,-4.09),(1.41,-4.05),(1.80,-4.08),(2.11,-4.06),(2.50,-4.09),(2.81,-4.05),(3.20,-4.08),(3.51,-4.06),(3.90,-4.09),(4.21,-4.05),(4.60,-4.08),(4.91,-4.06),(5.30,-4.09),
(0.36,-4.20),(0.75,-4.18),(1.06,-4.21),(1.45,-4.17),(1.76,-4.20),(2.15,-4.18),(2.46,-4.21),(2.85,-4.17),(3.16,-4.20),(3.55,-4.18),(3.86,-4.21),(4.25,-4.17),(4.56,-4.20),(4.95,-4.18),
(0.40,-4.32),(0.71,-4.30),(1.10,-4.33),(1.41,-4.29),(1.80,-4.32),(2.11,-4.30),(2.50,-4.33),(2.81,-4.29),(3.20,-4.32),(3.51,-4.30),(3.90,-4.33),(4.21,-4.29),(4.60,-4.32),(4.91,-4.30),
(0.75,-4.44),(1.06,-4.42),(1.45,-4.45),(1.76,-4.41),(2.15,-4.44),(2.46,-4.42),(2.85,-4.45),(3.16,-4.41),(3.55,-4.44),(3.86,-4.42),(4.25,-4.45),(4.56,-4.41),
(0.71,-4.56),(1.10,-4.54),(1.41,-4.57),(1.80,-4.53),(2.11,-4.56),(2.50,-4.54),(2.81,-4.57),(3.20,-4.53),(3.51,-4.56),(3.90,-4.54),(4.21,-4.57),(4.60,-4.53),
(0.75,-4.68),(1.06,-4.66),(1.45,-4.69),(1.76,-4.65),(2.15,-4.68),(2.46,-4.66),(2.85,-4.69),(3.16,-4.65),(3.55,-4.68),(3.86,-4.66),(4.25,-4.69),
(1.10,-4.80),(1.41,-4.78),(1.80,-4.81),(2.11,-4.77),(2.50,-4.80),(2.81,-4.78),(3.20,-4.81),(3.51,-4.77),(3.90,-4.80),(4.21,-4.78),
(1.06,-4.92),(1.45,-4.90),(1.76,-4.93),(2.15,-4.89),(2.46,-4.92),(2.85,-4.90),(3.16,-4.93),(3.55,-4.89),
(1.10,-5.04),(1.41,-5.02),(1.80,-5.05),(2.11,-5.01),(2.50,-5.04),(2.81,-5.02),(3.20,-5.05),
(1.45,-5.16),(1.76,-5.14),(2.15,-5.17),(2.46,-5.13),(2.85,-5.16),
(1.41,-5.28),(1.80,-5.26),(2.11,-5.29),(2.50,-5.27),
]

# ---------------- styling / layout ----------------
SERIF = "Liberation Serif"
BLUE = "#1f77b4"
FRAME_TOP, FRAME_H = 31, 476


def split(*groups):
    xs, ys = [], []
    for g in groups:
        for a, b in g:
            xs.append(a)
            ys.append(b)
    return xs, ys


def make_panel(width, border_left, border_right, xr, yr, yticks, title, outline):
    p = figure(width=width, height=569, x_range=Range1d(*xr), y_range=Range1d(*yr),
               output_backend="svg", toolbar_location=None,
               min_border_left=border_left, min_border_right=border_right,
               min_border_top=FRAME_TOP, min_border_bottom=569 - FRAME_TOP - FRAME_H)
    p.title.text = title
    p.title.text_font = SERIF
    p.title.text_font_size = "26px"
    p.title.text_font_style = "normal"
    p.title.text_color = "black"
    p.title.align = "center"
    p.title.standoff = 2
    p.xgrid.visible = False
    p.ygrid.visible = False
    p.background_fill_color = "white"
    p.border_fill_color = "white"
    if outline:
        p.outline_line_color = "black"
        p.outline_line_alpha = 1.0
    else:
        p.outline_line_color = None
        p.add_layout(Span(location=yr[1], dimension="width", line_color="black", line_width=1))
    p.xaxis.ticker = FixedTicker(ticks=x_ticks)
    p.yaxis.ticker = FixedTicker(ticks=yticks)
    p.xaxis.major_label_overrides = {t: str(t).replace("-", "\u2212") for t in x_ticks}
    p.yaxis.major_label_overrides = {t: str(t).replace("-", "\u2212") for t in yticks}
    p.xaxis.axis_label = x_label
    p.yaxis.axis_label = y_label
    for ax in (p.xaxis[0], p.yaxis[0]):
        ax.major_label_text_font = SERIF
        ax.major_label_text_font_size = "20px"
        ax.major_label_text_color = "black"
        ax.axis_label_text_font = SERIF
        ax.axis_label_text_font_size = "21px"
        ax.axis_label_text_font_style = "normal"
        ax.axis_label_text_color = "black"
        ax.major_tick_out = 5
        ax.major_tick_in = 0
        ax.minor_tick_line_color = None
        ax.axis_line_color = "black"
        ax.major_tick_line_color = "black"
        ax.major_label_standoff = 4
        ax.axis_label_standoff = 6
    p.xaxis[0].major_label_standoff = 7
    p.xaxis[0].axis_label_standoff = 3
    return p


def add_equation(p, frame_left, frame_w, xr, yr, x0, base, parts, se, ftext, fbase):
    def to_x(px):
        return xr[0] + (px - frame_left) / frame_w * (xr[1] - xr[0])

    def to_y(py):
        return yr[1] - (py - FRAME_TOP) / FRAME_H * (yr[1] - yr[0])

    offsets = [0, 14, 50, 70, 129, 149, 190.6, 207, 239, 259, 271]
    drops = [0, 4.5, 0, 0, 0, 0, 0, 4.5, 0, 0, 4.5]
    italic = [True, True, False, False, False, False, True, True, False, True, True]
    sizes = [22, 16.5, 22, 22, 22, 22, 22, 16.5, 22, 22, 16.5]
    for t, off, d, it, s in zip(parts, offsets, drops, italic, sizes):
        p.add_layout(Label(x=to_x(x0 + off), y=to_y(base + d), text=t, text_font=SERIF,
                           text_font_size=f"{s}px", text_font_style="italic" if it else "normal",
                           text_align="left", text_baseline="alphabetic", text_color="black"))
    p.add_layout(Label(x=to_x(x0 + 166.8), y=to_y(base + 14.5), text=se, text_font=SERIF,
                       text_font_size="15px", text_align="center", text_baseline="alphabetic",
                       text_color="black"))
    p.add_layout(Label(x=to_x(x0), y=to_y(fbase), text=ftext, text_font=SERIF,
                       text_font_size="21px", text_align="left", text_baseline="alphabetic",
                       text_color="black"))


# left panel
xr1, yr1 = (-2.85, 13.68), (-7.18, 1.87)
p1 = make_panel(500, 70, 14, xr1, yr1, unskilled_y_ticks, titles[0], True)
ux, uy = split(unskilled_core, unskilled_dense, unskilled_mid, unskilled_lower, unskilled_upper)
p1.scatter(ux, uy, size=6.8, fill_color=BLUE, line_color=BLUE, line_width=0.4)
p1.line(unskilled_fit_x, unskilled_fit_y, line_color="red", line_width=1.8)
add_equation(p1, 70, 416, xr1, yr1, 80, 68.5, unskilled_eq, unskilled_se, unskilled_f, 107)

# right panel
xr2, yr2 = (-2.79, 13.51), (-8.91, 0.013)
p2 = make_panel(495, 83, 0, xr2, yr2, skilled_y_ticks, titles[1], False)
sx, sy = split(skilled_core, skilled_dense, skilled_mid, skilled_lower, skilled_upper)
p2.scatter(sx, sy, size=6.8, fill_color=BLUE, line_color=BLUE, line_width=0.4)
p2.line(skilled_fit_x, skilled_fit_y, line_color="red", line_width=1.8)
add_equation(p2, 583, 412, xr2, yr2, 592.7, 69.5, skilled_eq, skilled_se, skilled_f, 106)

layout = row(p1, p2)
open("out.html", "w").write(file_html(layout, INLINE))
